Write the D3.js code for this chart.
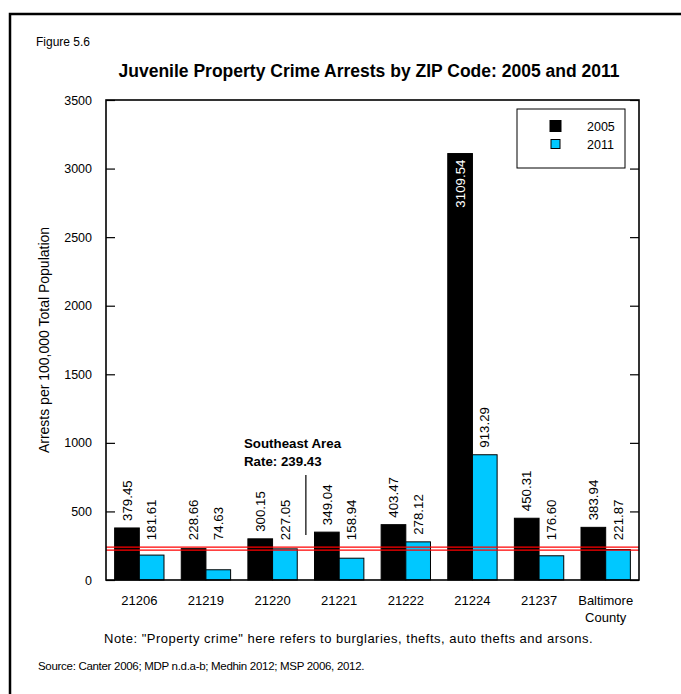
<!DOCTYPE html>
<html>
<head>
<meta charset="utf-8">
<script src="https://cdn.jsdelivr.net/npm/d3@7/dist/d3.min.js"></script>
<style>
  html, body { margin: 0; padding: 0; background: #fff; }
  svg { display: block; }
  text { font-family: "Liberation Sans", Arial, Helvetica, sans-serif; fill: #000; }
</style>
</head>
<body>
<svg id="chart" width="681" height="694"></svg>
<script>
const categories = ["21206", "21219", "21220", "21221", "21222", "21224", "21237", "Baltimore County"];
const series = ["2005", "2011"];
const values2005 = [379.45, 228.66, 300.15, 349.04, 403.47, 3109.54, 450.31, 383.94];
const values2011 = [181.61, 74.63, 227.05, 158.94, 278.12, 913.29, 176.60, 221.87];
const yTickValues = [0, 500, 1000, 1500, 2000, 2500, 3000, 3500];
const yMinorTicks = d3.range(0, 3501, 100);
const southeastRate = 239.43;
const colors = { "2005": "#000000", "2011": "#00c8ff" };

(function () {
const svg = d3.select("#chart");
const pL = 106, pR = 639, pT = 100, pB = 580;

svg.append("path").attr("d", `M10,694 L10,14 L681,14`).attr("fill", "none")
  .attr("stroke", "#000").attr("stroke-width", 2.5);

svg.append("text").attr("x", 36).attr("y", 46).attr("font-size", 12).text("Figure 5.6");
svg.append("text").attr("x", 369).attr("y", 77).attr("text-anchor", "middle")
  .attr("font-size", 17.5).attr("font-weight", "bold")
  .text("Juvenile Property Crime Arrests by ZIP Code: 2005 and 2011");

const x0 = d3.scaleBand().domain(categories).range([pL, pR]).padding(0);
const x1 = d3.scaleBand().domain(series).range([0, x0.bandwidth()]).paddingInner(0).paddingOuter(0.35);
const y = d3.scaleLinear().domain([0, 3500]).range([pB, pT]);

const yAxisL = d3.axisLeft(y).tickValues(yTickValues).tickSize(-9).tickPadding(14).tickFormat(d3.format("d"));
const yAxisLMinor = d3.axisLeft(y).tickValues(yMinorTicks).tickSize(-5).tickFormat("");
const yAxisR = d3.axisRight(y).tickValues(yTickValues).tickSize(-9).tickFormat("");
const yAxisRMinor = d3.axisRight(y).tickValues(yMinorTicks).tickSize(-5).tickFormat("");

const data = categories.map((c, i) => ({ cat: c, vals: [
  { s: "2005", v: values2005[i] }, { s: "2011", v: values2011[i] } ] }));

const groups = svg.append("g").selectAll("g").data(data).join("g")
  .attr("transform", d => `translate(${x0(d.cat)},0)`);

groups.selectAll("rect").data(d => d.vals).join("rect")
  .attr("x", d => x1(d.s)).attr("width", x1.bandwidth())
  .attr("y", d => y(d.v)).attr("height", d => y(0) - y(d.v))
  .attr("fill", d => colors[d.s]).attr("stroke", "#000").attr("stroke-width", 1);

const rY = y(southeastRate);
[rY, rY + 3].forEach(yy => {
  svg.append("line").attr("x1", pL).attr("x2", pR).attr("y1", yy).attr("y2", yy)
    .attr("stroke", "#ff0000").attr("stroke-width", 1.4);
});

groups.selectAll("text.val").data(d => d.vals).join("text")
  .attr("class", "val")
  .attr("font-size", 13.3)
  .style("fill", d => d.v > 3000 ? "#fff" : "#000")
  .attr("text-anchor", d => d.v > 3000 ? "end" : "start")
  .attr("transform", d => {
    const cx = x1(d.s) + x1.bandwidth() / 2 + 4.7;
    const yy = d.v > 3000 ? y(d.v) + 6 : Math.min(y(d.v), y(southeastRate)) - 7;
    return `translate(${cx},${yy}) rotate(-90)`;
  })
  .text(d => d.v.toFixed(2));

const gL = svg.append("g").attr("transform", `translate(${pL},0)`);
gL.call(yAxisLMinor);
gL.call(yAxisL);
const gR = svg.append("g").attr("transform", `translate(${pR},0)`);
gR.call(yAxisRMinor);
gR.call(yAxisR);
[gL, gR].forEach(g => {
  g.selectAll(".domain").remove();
  g.selectAll("line").attr("stroke", "#000").attr("stroke-width", 1.2);
});
gL.selectAll("text").attr("font-size", 12.5).attr("font-family", "Liberation Sans, Arial, sans-serif").attr("fill", "#000");

svg.append("rect").attr("x", pL).attr("y", pT).attr("width", pR - pL).attr("height", pB - pT)
  .attr("fill", "none").attr("stroke", "#000").attr("stroke-width", 1.6);

const xl = svg.append("g");
categories.forEach(c => {
  const t = xl.append("text").attr("x", x0(c) + x0.bandwidth() / 2).attr("y", 605)
    .attr("text-anchor", "middle").attr("font-size", 13);
  const parts = c.split(" ");
  parts.forEach((p, i) => t.append("tspan").attr("x", x0(c) + x0.bandwidth() / 2).attr("dy", i === 0 ? 0 : 17).text(p));
});

svg.append("text").attr("transform", `translate(49,${(pT + pB) / 2}) rotate(-90)`)
  .attr("text-anchor", "middle").attr("font-size", 14).text("Arrests per 100,000 Total Population");

const annX = x0(categories[3]);
svg.append("text").attr("x", 244).attr("y", 448).attr("font-size", 13.3).attr("font-weight", "bold").text("Southeast Area");
svg.append("text").attr("x", 244).attr("y", 466).attr("font-size", 13.3).attr("font-weight", "bold").text("Rate: " + southeastRate.toFixed(2));
svg.append("line").attr("x1", annX).attr("x2", annX).attr("y1", 475).attr("y2", 535)
  .attr("stroke", "#000").attr("stroke-width", 1.2);

const lg = svg.append("g");
lg.append("rect").attr("x", 517).attr("y", 109).attr("width", 108).attr("height", 59)
  .attr("fill", "#fff").attr("stroke", "#000").attr("stroke-width", 1);
series.forEach((s, i) => {
  const yy = 126 + i * 18;
  const big = s === "2005";
  lg.append("rect").attr("x", big ? 550 : 551).attr("y", yy - (big ? 5.5 : 4.5))
    .attr("width", big ? 11 : 9).attr("height", big ? 11 : 9)
    .attr("fill", colors[s]).attr("stroke", "#000").attr("stroke-width", 1);
  lg.append("text").attr("x", 587).attr("y", yy + 5).attr("font-size", 12.5).text(s);
});

svg.append("text").attr("x", 104).attr("y", 643).attr("font-size", 13).attr("letter-spacing", 0.5)
  .text("Note: \"Property crime\" here refers to burglaries, thefts, auto thefts and arsons.");
svg.append("text").attr("x", 38).attr("y", 670).attr("font-size", 11.5).attr("letter-spacing", -0.3)
  .text("Source: Canter 2006; MDP n.d.a-b; Medhin 2012; MSP 2006, 2012.");
})();
</script>
</body>
</html>
